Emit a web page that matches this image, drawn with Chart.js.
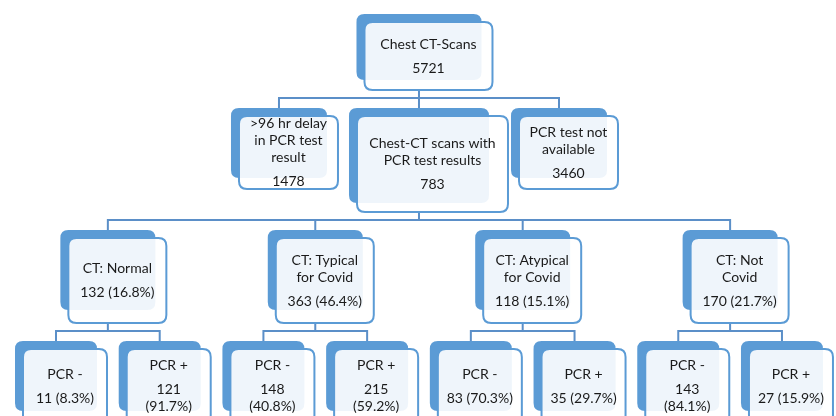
<!DOCTYPE html>
<html>
<head>
<meta charset="utf-8">
<script src="https://cdn.jsdelivr.net/npm/chart.js@4"></script>
<style>
  body { margin: 0; background: #fff; }
  #wrap { width: 836px; height: 416px; }
</style>
</head>
<body>
<div id="wrap"><canvas id="chart" width="836" height="416"></canvas></div>
<script>
// tree data
const nodeLabels = [
    'Chest CT-Scans',
    '>96 hr delay in PCR test result',
    'Chest-CT scans with PCR test results',
    'PCR test not available',
    'CT: Normal', 'CT: Typical for Covid', 'CT: Atypical for Covid', 'CT: Not Covid',
    'PCR -', 'PCR +', 'PCR -', 'PCR +', 'PCR -', 'PCR +', 'PCR -', 'PCR +'
];
const nodeCounts = [5721, 1478, 783, 3460, 132, 363, 118, 170, 11, 121, 148, 215, 83, 35, 143, 27];
const nodePercents = [null, null, null, null, 16.8, 46.4, 15.1, 21.7, 8.3, 91.7, 40.8, 59.2, 70.3, 29.7, 84.1, 15.9];
const nodeParents = [-1, 0, 0, 0, 2, 2, 2, 2, 4, 4, 5, 5, 6, 6, 7, 7];

// look of each level: back box w/h, front box fw/fh (px), top in y-scale units
const levelStyle = [
    {top: 14, w: 125, h: 66, fw: 128, fh: 68},
    {top: 108, w: 96, h: 70, fw: 99, fh: 73, bigW: 140, bigH: 95, bigFw: 151, bigFh: 96},
    {top: 230, w: 95, h: 80, fw: 98, fh: 85},
    {top: 341, w: 82, h: 70, fw: 84, fh: 74}
];
const sideStep = 1.35;   // childless siblings sit this many leaf slots away
const backColor = '#5b9bd5';
const lineColor = '#5b8fc8';
const font = '14px Lato';

const n = nodeLabels.length;
const nodeDepth = nodeParents.map(function (p) {
    let d = 0;
    while (p >= 0) { d++; p = nodeParents[p]; }
    return d;
});
const children = nodeParents.map((_, i) => nodeParents.map((p, j) => p === i ? j : -1).filter(j => j >= 0));
const maxDepth = Math.max(...nodeDepth);

// x position in leaf slots
const nodeX = new Array(n).fill(null);
let slot = 0;
for (let i = 0; i < n; i++) if (nodeDepth[i] === maxDepth) nodeX[i] = slot++;
for (let d = maxDepth - 1; d >= 0; d--) {
    for (let i = 0; i < n; i++) {
        if (nodeDepth[i] !== d || !children[i].length) continue;
        const kids = children[i];
        kids.forEach(function (k) {
            if (nodeX[k] !== null) return;
            const b = kids.findIndex(s => children[s].length);
            nodeX[k] = nodeX[kids[b]] + (kids.indexOf(k) - b) * sideStep;
        });
        nodeX[i] = kids.reduce((a, k) => a + nodeX[k], 0) / kids.length;
    }
}

function boxSize(i) {
    const s = levelStyle[nodeDepth[i]];
    if (s.bigW && children[i].length) return {w: s.bigW, h: s.bigH, fw: s.bigFw, fh: s.bigFh};
    return s;
}

function roundRect(ctx, x, y, w, h, r) {
    ctx.beginPath();
    ctx.moveTo(x + r, y);
    ctx.lineTo(x + w - r, y);
    ctx.quadraticCurveTo(x + w, y, x + w, y + r);
    ctx.lineTo(x + w, y + h - r);
    ctx.quadraticCurveTo(x + w, y + h, x + w - r, y + h);
    ctx.lineTo(x + r, y + h);
    ctx.quadraticCurveTo(x, y + h, x, y + h - r);
    ctx.lineTo(x, y + r);
    ctx.quadraticCurveTo(x, y, x + r, y);
    ctx.closePath();
}

function wrap(ctx, text, maxW) {
    const words = text.split(' ');
    const lines = [];
    let line = '';
    words.forEach(function (w) {
        const test = line ? line + ' ' + w : w;
        if (line && ctx.measureText(test).width > maxW) {
            lines.push(line);
            line = w;
        } else {
            line = test;
        }
    });
    lines.push(line);
    return lines;
}

const treePlugin = {
    id: 'tree',
    afterDatasetsDraw: function (chart) {
        const ctx = chart.ctx;
        const pts = chart.getDatasetMeta(0).data;
        ctx.save();

        // connectors
        ctx.strokeStyle = lineColor;
        ctx.lineWidth = 2;
        for (let i = 0; i < n; i++) {
            const kids = children[i];
            if (!kids.length) continue;
            const s = boxSize(i);
            const px = pts[i].x;
            const y0 = pts[i].y + 8 + s.fh;
            const childTop = pts[kids[0]].y;
            const busY = childTop - 10;
            const xs = kids.map(k => pts[k].x);
            ctx.beginPath();
            ctx.moveTo(px, y0);
            ctx.lineTo(px, busY);
            ctx.moveTo(Math.min(...xs) - 1, busY);
            ctx.lineTo(Math.max(...xs) + 1, busY);
            xs.forEach(function (x) {
                ctx.moveTo(x, busY);
                ctx.lineTo(x, childTop + 2);
            });
            ctx.stroke();
        }

        // boxes
        for (let i = 0; i < n; i++) {
            const s = boxSize(i);
            const bx = pts[i].x - s.w / 2;
            const by = pts[i].y;
            roundRect(ctx, bx, by, s.w, s.h, 8);
            ctx.fillStyle = backColor;
            ctx.fill();

            const fx = bx + 8, fy = by + 8;
            roundRect(ctx, fx, fy, s.fw, s.fh, 8);
            ctx.fillStyle = 'rgba(255,255,255,0.9)';
            ctx.fill();
            ctx.strokeStyle = backColor;
            ctx.lineWidth = 2;
            ctx.stroke();

            // text
            ctx.font = font;
            ctx.fillStyle = '#1a1a1a';
            ctx.textAlign = 'center';
            ctx.textBaseline = 'middle';
            const maxW = s.fw - 15;
            const value = nodeCounts[i] + (nodePercents[i] !== null ? ' (' + nodePercents[i].toFixed(1) + '%)' : '');
            const lab = wrap(ctx, nodeLabels[i], maxW);
            const val = wrap(ctx, value, maxW);
            const span = (lab.length - 1) * 17 + 24 + (val.length - 1) * 17;
            const cx = fx + s.fw / 2;
            let y = fy + s.fh / 2 - span / 2;
            lab.forEach(function (t) { ctx.fillText(t, cx, y); y += 17; });
            y += 7;
            val.forEach(function (t) { ctx.fillText(t, cx, y); y += 17; });
        }
        ctx.restore();
    }
};

new Chart(document.getElementById('chart'), {
    type: 'scatter',
    data: {
        datasets: [{
            data: nodeX.map((x, i) => ({x: x, y: levelStyle[nodeDepth[i]].top})),
            pointRadius: 0,
            pointHoverRadius: 0
        }]
    },
    options: {
        responsive: false,
        animation: false,
        layout: {padding: 0},
        scales: {
            x: {type: 'linear', min: -0.54, max: 7.521, display: false},
            y: {type: 'linear', min: 0, max: 416, reverse: true, display: false}
        },
        plugins: {
            legend: {display: false},
            tooltip: {enabled: false}
        }
    },
    plugins: [treePlugin]
});
</script>
</body>
</html>
